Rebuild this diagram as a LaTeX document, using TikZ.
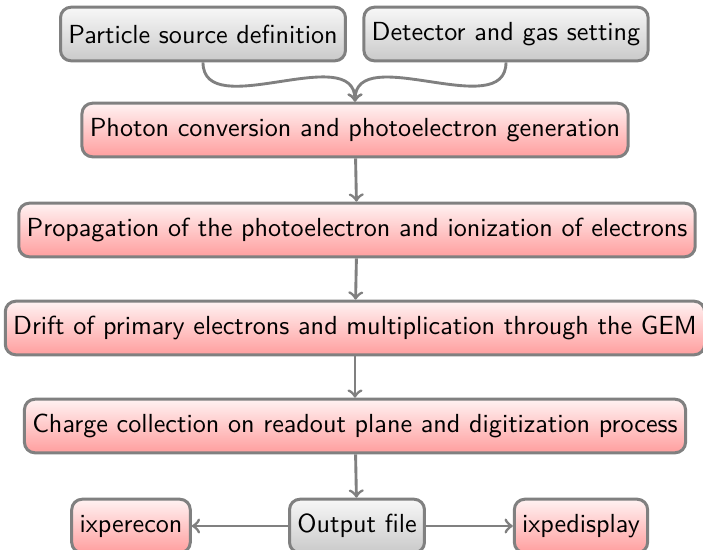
\documentclass[tikz,border=0pt]{standalone}
\tikzset{
    block/.style={draw=gray, line width=1.15pt, rounded corners=4pt, font=\sffamily,
        inner xsep=3pt, inner ysep=4pt, minimum height=20.5pt},
    greyblock/.style={block, top color=gray!6, bottom color=gray!42},
    redblock/.style={block, top color=red!5, bottom color=red!38},
    link/.style={->, draw=gray, line width=1.1pt},
}
\begin{document}
\begin{tikzpicture}[x=0.01345cm, y=-0.01345cm]
    \useasboundingbox (0,0) rectangle (703,549);

    % Inputs
    \node[greyblock] (source) at (203,34) {Particle source definition};
    \node[greyblock] (detector) at (506,34) {Detector and gas setting};

    % Simulation chain
    \node[redblock] (photon) at (355,130) {Photon conversion and photoelectron generation};
    \node[redblock] (propagation) at (357,230) {Propagation of the photoelectron and ionization of electrons};
    \node[redblock] (drift) at (355,328) {Drift of primary electrons and multiplication through the GEM};
    \node[redblock] (charge) at (355,426) {Charge collection on readout plane and digitization process};

    % Output
    \node[greyblock] (output) at (357,526) {Output file};
    \node[redblock] (recon) at (131,526) {ixperecon};
    \node[redblock] (display) at (581,526) {ixpedisplay};

    % Connections
    \draw[link] (source.south) to[out=-90, in=90] (photon.north);
    \draw[link] (detector.south) to[out=-90, in=90] (photon.north);
    \draw[link] (photon) -- (propagation);
    \draw[link] (propagation) -- (drift);
    \draw[link] (drift) -- (charge);
    \draw[link] (charge) -- (output);
    \draw[link] (output) -- (recon);
    \draw[link] (output) -- (display);
\end{tikzpicture}
\end{document}
